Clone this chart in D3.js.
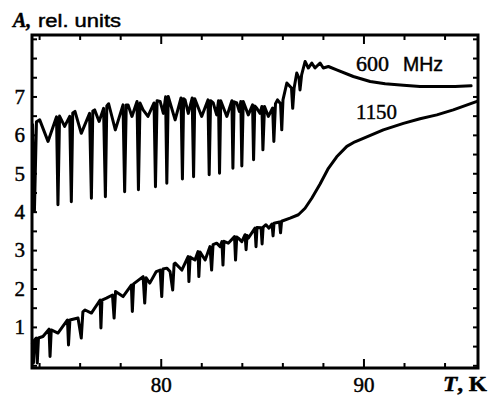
<!DOCTYPE html>
<html>
<head>
<meta charset="utf-8">
<script src="https://cdn.jsdelivr.net/npm/d3@7"></script>
<style>
  body { margin: 0; background: #fff; }
  .serif { font-family: "Liberation Serif", "Times New Roman", serif; }
  .sans { font-family: "Liberation Sans", Arial, sans-serif; }
  text { fill: #000; stroke: #000; stroke-width: 0.45px; }
</style>
</head>
<body>
<svg id="chart" width="490" height="396"></svg>
<script>
// temperature ticks (K) and amplitude ticks (rel. units)
const tempTicks = [74, 76, 78, 80, 82, 84, 86, 88, 90, 92, 94];
const tempLabels = [80, 90];
const ampTicks = d3.range(0, 8.6, 0.5);
const ampLabels = [1, 2, 3, 4, 5, 6, 7];

// [T, A], 600 MHz trace
const trace600 = [
  [73.68, 6.26], [73.77, 4.02], [73.87, 6.34], [74.03, 6.39], [74.44, 5.83], [74.86, 6.47],
  [74.93, 4.18], [75.01, 6.49], [75.26, 6.22], [75.51, 6.48], [75.59, 4.26], [75.66, 6.57],
  [75.77, 6.61], [76.08, 6.04], [76.49, 6.56], [76.58, 4.35], [76.65, 6.62], [76.74, 6.65],
  [76.96, 6.35], [77.18, 6.69], [77.27, 4.39], [77.34, 6.75], [77.43, 6.81], [77.76, 6.13],
  [78.14, 6.78], [78.22, 4.52], [78.30, 6.78], [78.39, 6.78], [78.58, 6.48], [78.83, 6.87],
  [78.90, 4.57], [78.98, 6.83], [79.13, 6.65], [79.37, 6.48], [79.67, 6.83], [79.74, 4.65],
  [79.82, 6.89], [79.97, 6.87], [80.13, 6.56], [80.24, 6.99], [80.30, 4.74], [80.37, 7.00],
  [80.71, 6.39], [81.00, 6.96], [81.07, 4.85], [81.13, 6.94], [81.20, 6.91], [81.36, 6.56],
  [81.55, 6.96], [81.62, 4.91], [81.68, 6.94], [82.02, 6.48], [82.33, 6.91], [82.39, 4.96],
  [82.46, 6.89], [82.59, 6.83], [82.76, 6.52], [82.85, 6.89], [82.90, 5.00], [82.96, 6.89],
  [83.26, 6.48], [83.51, 6.89], [83.56, 5.13], [83.62, 6.86], [83.75, 6.83], [83.88, 6.61],
  [83.95, 6.87], [84.00, 5.19], [84.07, 6.87], [84.32, 6.52], [84.53, 6.78], [84.58, 5.35],
  [84.64, 6.75], [84.74, 6.69], [84.90, 6.56], [84.99, 6.74], [85.04, 5.61], [85.12, 6.74],
  [85.31, 6.48], [85.52, 6.70], [85.58, 5.83], [85.66, 6.81], [85.76, 6.91], [85.91, 6.81],
  [85.97, 6.13], [86.03, 6.91], [86.22, 7.35], [86.45, 7.22], [86.51, 6.69], [86.58, 7.22],
  [86.71, 7.61], [86.82, 7.48], [86.87, 7.17], [86.95, 7.56], [87.12, 7.91], [87.28, 7.74],
  [87.45, 7.87], [87.61, 7.74], [87.86, 7.87], [88.02, 7.74], [88.27, 7.78], [88.68, 7.69],
  [89.50, 7.52], [90.33, 7.39], [91.07, 7.33], [91.97, 7.29], [92.79, 7.26], [93.62, 7.26],
  [94.52, 7.26], [95.31, 7.28]
];

// [T, A], 1150 MHz trace
const trace1150 = [
  [73.67, 0.58], [73.72, 0.06], [73.77, 0.66], [73.86, 0.71], [73.91, 0.06], [73.97, 0.71],
  [74.19, 0.75], [74.49, 0.94], [74.54, 0.23], [74.60, 0.92], [74.93, 0.84], [75.40, 1.18],
  [75.45, 0.53], [75.52, 1.18], [75.92, 1.23], [76.08, 0.71], [76.16, 1.39], [76.27, 1.44],
  [76.58, 1.36], [77.01, 1.70], [77.05, 0.97], [77.10, 1.70], [77.32, 1.75], [77.62, 1.83],
  [77.70, 1.23], [77.77, 1.92], [78.14, 1.79], [78.55, 2.09], [78.60, 1.40], [78.66, 2.12],
  [79.13, 2.31], [79.21, 1.62], [79.28, 2.28], [79.46, 2.14], [79.78, 2.44], [79.97, 2.48],
  [80.05, 1.79], [80.11, 2.51], [80.30, 2.53], [80.46, 2.44], [80.59, 1.96], [80.66, 2.64],
  [80.71, 2.66], [81.04, 2.48], [81.35, 2.83], [81.39, 2.18], [81.45, 2.82], [81.53, 2.79],
  [81.69, 2.74], [81.84, 2.96], [81.88, 2.31], [81.94, 2.95], [82.19, 2.74], [82.43, 3.09],
  [82.51, 2.48], [82.58, 3.14], [82.76, 3.18], [82.93, 3.09], [83.02, 3.22], [83.07, 2.61],
  [83.12, 3.23], [83.33, 3.18], [83.64, 3.35], [83.69, 2.74], [83.75, 3.34], [83.83, 3.31],
  [84.00, 3.22], [84.16, 3.40], [84.21, 3.01], [84.26, 3.38], [84.32, 3.31], [84.65, 3.57],
  [84.70, 3.09], [84.75, 3.59], [84.95, 3.58], [85.00, 3.16], [85.05, 3.60], [85.19, 3.66],
  [85.34, 3.57], [85.49, 3.68], [85.54, 3.37], [85.59, 3.70], [85.86, 3.73], [85.91, 3.45],
  [85.96, 3.75], [86.38, 3.83], [86.79, 3.92], [87.12, 4.09], [87.45, 4.35], [87.86, 4.72],
  [88.27, 5.13], [88.68, 5.43], [89.18, 5.70], [89.58, 5.82], [89.99, 5.91], [90.98, 6.13],
  [91.97, 6.30], [92.79, 6.42], [93.62, 6.52], [94.43, 6.65], [95.60, 6.87]
];

const ctx = { left: 32, right: 478, top: 35, bottom: 368 };

const svg = d3.select("#chart");
svg.append("rect").attr("width", 490).attr("height", 396).attr("fill", "#fff");

const x = d3.scaleLinear().domain([73.65, 95.65]).range([ctx.left, ctx.right]);
const y = d3.scaleLinear().domain([-0.07, 8.6]).range([ctx.bottom, ctx.top]);

// tick marks, pointing inward on all four sides
function ticks(axis, transform, size, values) {
  const g = svg.append("g")
    .attr("transform", transform)
    .call(axis.tickValues(values).tickSize(size).tickFormat(""));
  g.select(".domain").remove();
  g.selectAll("line").attr("stroke", "#000").attr("stroke-width", 2);
}
const minorT = tempTicks.filter(t => !tempLabels.includes(t));
ticks(d3.axisBottom(x), `translate(0,${ctx.bottom})`, -5, minorT);
ticks(d3.axisBottom(x), `translate(0,${ctx.bottom})`, -9, tempLabels);
ticks(d3.axisTop(x), `translate(0,${ctx.top})`, -5, minorT);
ticks(d3.axisTop(x), `translate(0,${ctx.top})`, -9, tempLabels);
ticks(d3.axisLeft(y), `translate(${ctx.left},0)`, -5, ampTicks);
ticks(d3.axisRight(y), `translate(${ctx.right},0)`, -5, ampTicks);

// tick labels
const xLab = svg.append("g")
  .attr("transform", `translate(0,${ctx.bottom})`)
  .call(d3.axisBottom(x).tickValues(tempLabels).tickSize(0).tickPadding(9));
xLab.select(".domain").remove();
xLab.selectAll("text").attr("class", "serif").attr("font-size", 21);

const yLab = svg.append("g")
  .attr("transform", `translate(${ctx.left},0)`)
  .call(d3.axisLeft(y).tickValues(ampLabels).tickSize(0).tickPadding(7));
yLab.select(".domain").remove();
yLab.selectAll("text").attr("class", "serif").attr("font-size", 21);

// traces
const line = d3.line().x(d => x(d[0])).y(d => y(d[1]));
[trace600, trace1150].forEach(tr => {
  svg.append("path")
    .datum(tr)
    .attr("d", line)
    .attr("fill", "none")
    .attr("stroke", "#000")
    .attr("stroke-width", 3)
    .attr("stroke-linejoin", "round")
    .attr("stroke-linecap", "round");
});

// frame
svg.append("rect")
  .attr("x", ctx.left).attr("y", ctx.top)
  .attr("width", ctx.right - ctx.left).attr("height", ctx.bottom - ctx.top)
  .attr("fill", "none").attr("stroke", "#000").attr("stroke-width", 3);

// axis titles
svg.append("text").attr("class", "serif")
  .attr("x", 13).attr("y", 27)
  .attr("font-size", 20).attr("font-weight", "bold").attr("font-style", "italic")
  .text("A,");
svg.append("text").attr("class", "sans")
  .attr("x", 38).attr("y", 27)
  .attr("font-size", 18)
  .attr("textLength", 83).attr("lengthAdjust", "spacingAndGlyphs")
  .text("rel. units");

const tk = svg.append("text").attr("class", "serif")
  .attr("x", 443).attr("y", 391)
  .attr("font-size", 21).attr("font-weight", "bold")
  .attr("textLength", 44).attr("lengthAdjust", "spacingAndGlyphs");
tk.append("tspan").attr("font-style", "italic").text("T");
tk.append("tspan").text(", K");

// curve labels
svg.append("text").attr("class", "serif")
  .attr("x", 356).attr("y", 70.5).attr("font-size", 22)
  .text("600");
svg.append("text").attr("class", "sans")
  .attr("x", 403).attr("y", 70.5).attr("font-size", 20)
  .attr("textLength", 40).attr("lengthAdjust", "spacingAndGlyphs")
  .text("MHz");
svg.append("text").attr("class", "serif")
  .attr("x", 356).attr("y", 118.5).attr("font-size", 22)
  .attr("textLength", 41).attr("lengthAdjust", "spacingAndGlyphs")
  .text("1150");
</script>
</body>
</html>
